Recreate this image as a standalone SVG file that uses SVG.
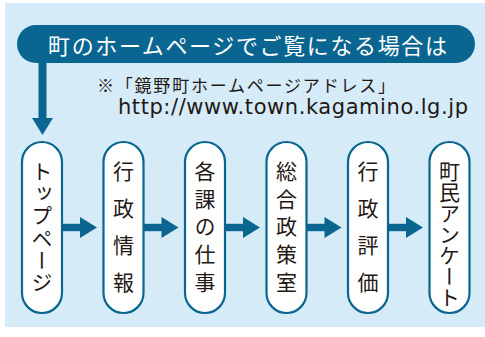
<svg xmlns="http://www.w3.org/2000/svg" width="485" height="337" viewBox="0 0 485 337">
<style>
.bg{fill:#d5ebf8}
.node rect{fill:#ffffff;stroke:#0a6690;stroke-width:2.2}
.vt{font-family:"Noto Sans CJK JP","Noto Sans CJK SC",sans-serif;font-size:21px;fill:#231815;writing-mode:vertical-rl;text-anchor:start}
.conn{fill:#0a6690}
.jp{font-family:"Noto Sans CJK JP","Noto Sans CJK SC",sans-serif}
</style>
<defs>
<g id="harrow">
<rect x="0" y="-3.7" width="19" height="7.4"/>
<polygon points="18,-10.5 35,0 18,10.5"/>
</g>
</defs>
<rect class="bg" x="5" y="3" width="480" height="324"/>
<g id="banner">
<rect x="17" y="25" width="458" height="38" rx="19" fill="#0a6690"/>
<text class="jp" x="48" y="44" font-size="22" fill="#ffffff" dominant-baseline="central" textLength="399" lengthAdjust="spacing">町のホームページでご覧になる場合は</text>
</g>
<g id="note">
<text class="jp" x="97" y="84" font-size="17" fill="#231815" dominant-baseline="central" textLength="298" lengthAdjust="spacing">※「鏡野町ホームページアドレス」</text>
<text x="118" y="114" font-family="'DejaVu Sans',sans-serif" font-size="21" fill="#231815" textLength="350" lengthAdjust="spacing">http://www.town.kagamino.lg.jp</text>
</g>
<g id="connectors" class="conn">
<rect x="38.5" y="60" width="8" height="59"/>
<polygon points="32,118 53,118 42.5,135"/>
<use href="#harrow" transform="translate(62,227.5)"/>
<use href="#harrow" transform="translate(143.5,227.5)"/>
<use href="#harrow" transform="translate(225,227.5)"/>
<use href="#harrow" transform="translate(306.5,227.5)"/>
<use href="#harrow" transform="translate(388,227.5)"/>
</g>
<g id="n1" class="node">
<rect x="22" y="142" width="40" height="171" rx="20"/>
<text class="vt" x="42" y="160.5" letter-spacing="1.2">トップページ</text>
</g>
<g id="n2" class="node">
<rect x="103.5" y="142" width="40" height="171" rx="20"/>
<text class="vt" x="123.5" y="160.5" letter-spacing="16">行政情報</text>
</g>
<g id="n3" class="node">
<rect x="185" y="142" width="40" height="171" rx="20"/>
<text class="vt" x="205" y="160.5" letter-spacing="6.75">各課の仕事</text>
</g>
<g id="n4" class="node">
<rect x="266.5" y="142" width="40" height="171" rx="20"/>
<text class="vt" x="286.5" y="160.5" letter-spacing="6.75">総合政策室</text>
</g>
<g id="n5" class="node">
<rect x="348" y="142" width="40" height="171" rx="20"/>
<text class="vt" x="368" y="160.5" letter-spacing="16">行政評価</text>
</g>
<g id="n6" class="node">
<rect x="429.5" y="142" width="40" height="171" rx="20"/>
<text class="vt" x="449.5" y="161" font-size="20" letter-spacing="0">町民アンケート</text>
</g>
</svg>
